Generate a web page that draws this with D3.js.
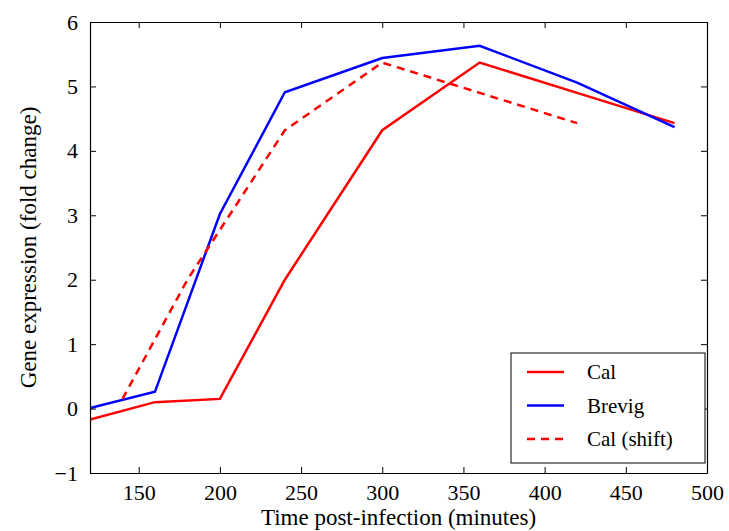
<!DOCTYPE html>
<html>
<head>
<meta charset="utf-8">
<script src="https://cdn.jsdelivr.net/npm/d3@7"></script>
<style>
  body { margin: 0; background: #fff; }
  svg text { font-family: "Liberation Serif", "Times New Roman", Times, "DejaVu Serif", serif; fill: #000; }
</style>
</head>
<body>
<div id="chart"></div>
<script>
// Gene expression time course (fold change) for the two strains

// Data
const calTimes = [120, 160, 200, 240, 300, 360, 420, 480];
const calValues = [-0.17, 0.10, 0.15, 2.0, 4.32, 5.37, 4.9, 4.43];
const brevigTimes = [120, 160, 200, 240, 300, 360, 420, 480];
const brevigValues = [0.01, 0.26, 3.02, 4.91, 5.44, 5.63, 5.06, 4.37];
const shiftTimes = [140, 180, 240, 300, 360, 420];
const shiftValues = [0.15, 2.0, 4.32, 5.37, 4.9, 4.43];

const xTicks = [150, 200, 250, 300, 350, 400, 450, 500];
const yTicks = [-1, 0, 1, 2, 3, 4, 5, 6];
const legendLabels = ["Cal", "Brevig", "Cal (shift)"];

// Layout
const width = 729, height = 531;
const margin = { top: 22, right: 22, bottom: 58, left: 90 };

const svg = d3.select("#chart").append("svg")
    .attr("width", width)
    .attr("height", height);

const x = d3.scaleLinear().domain([120, 500]).range([margin.left, width - margin.right]);
const y = d3.scaleLinear().domain([-1, 6]).range([height - margin.bottom, margin.top]);

const tickLen = 6;
const fontSize = 22;
const serif = "'Liberation Serif', 'Times New Roman', Times, 'DejaVu Serif', serif";

// Clip path for the lines
svg.append("defs").append("clipPath").attr("id", "plot-clip")
    .append("rect")
    .attr("x", x(120)).attr("y", y(6))
    .attr("width", x(500) - x(120)).attr("height", y(-1) - y(6));

// Series
const series = [
    { label: legendLabels[0], times: calTimes, values: calValues, color: "#ff0000", dash: null },
    { label: legendLabels[1], times: brevigTimes, values: brevigValues, color: "#0000ff", dash: null },
    { label: legendLabels[2], times: shiftTimes, values: shiftValues, color: "#ff0000", dash: "8,6" }
];

const line = d3.line()
    .x(d => x(d[0]))
    .y(d => y(d[1]));

svg.append("g")
    .attr("clip-path", "url(#plot-clip)")
    .selectAll("path")
    .data(series)
    .enter().append("path")
    .attr("fill", "none")
    .attr("stroke", d => d.color)
    .attr("stroke-width", 2.5)
    .attr("stroke-dasharray", d => d.dash)
    .attr("d", d => line(d.times.map((t, i) => [t, d.values[i]])));

// Axes: ticks pointing inward on all four sides
const bottomAxis = svg.append("g")
    .attr("transform", `translate(0,${y(-1)})`)
    .call(d3.axisBottom(x).tickValues(xTicks).tickSizeInner(-tickLen).tickSizeOuter(0).tickPadding(11));
const topAxis = svg.append("g")
    .attr("transform", `translate(0,${y(6)})`)
    .call(d3.axisTop(x).tickValues(xTicks).tickSizeInner(-tickLen).tickSizeOuter(0).tickFormat(""));
const leftAxis = svg.append("g")
    .attr("transform", `translate(${x(120)},0)`)
    .call(d3.axisLeft(y).tickValues(yTicks).tickSizeInner(-tickLen).tickSizeOuter(0).tickPadding(12)
        .tickFormat(d => d < 0 ? "\u2212" + Math.abs(d) : d));
const rightAxis = svg.append("g")
    .attr("transform", `translate(${x(500)},0)`)
    .call(d3.axisRight(y).tickValues(yTicks).tickSizeInner(-tickLen).tickSizeOuter(0).tickFormat(""));

[bottomAxis, topAxis, leftAxis, rightAxis].forEach(g => {
    g.attr("font-family", serif);
    g.select(".domain").attr("stroke", "#000").attr("stroke-width", 1.2);
    g.selectAll(".tick line").attr("stroke", "#000").attr("stroke-width", 1);
    g.selectAll(".tick text")
        .attr("font-family", serif)
        .attr("font-size", fontSize)
        .attr("fill", "#000");
});

// Axis titles
svg.append("text")
    .attr("x", (x(120) + x(500)) / 2)
    .attr("y", 525)
    .attr("text-anchor", "middle")
    .attr("font-family", serif)
    .attr("font-size", 23)
    .text("Time post-infection (minutes)");

svg.append("text")
    .attr("transform", `translate(36,${(y(-1) + y(6)) / 2}) rotate(-90)`)
    .attr("text-anchor", "middle")
    .attr("font-family", serif)
    .attr("font-size", 23)
    .text("Gene expression (fold change)");

// Legend
const legend = svg.append("g").attr("transform", "translate(511,353)");
legend.append("rect")
    .attr("width", 194).attr("height", 110)
    .attr("fill", "#fff").attr("stroke", "#000").attr("stroke-width", 1);

const legendItems = legend.selectAll(".legend-item")
    .data(series)
    .enter().append("g")
    .attr("class", "legend-item")
    .attr("transform", (d, i) => `translate(0,${19 + i * 33.5})`);

legendItems.append("line")
    .attr("x1", 16).attr("x2", 53)
    .attr("stroke", d => d.color)
    .attr("stroke-width", 2.5)
    .attr("stroke-dasharray", d => d.dash);

legendItems.append("text")
    .attr("x", 76)
    .attr("dy", "0.35em")
    .attr("font-family", serif)
    .attr("font-size", 21)
    .text(d => d.label);
</script>
</body>
</html>
